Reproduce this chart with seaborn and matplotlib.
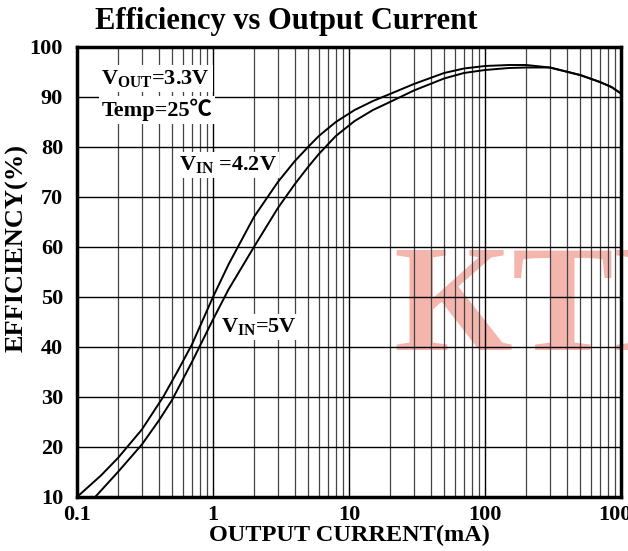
import numpy as np
import pandas as pd
import matplotlib
matplotlib.use('Agg')
import matplotlib.pyplot as plt
import seaborn as sns

# ── DATA ──────────────────────────────────────────────────────────────────────
current_42 = [0.1, 0.15, 0.2, 0.3, 0.43, 0.55, 0.7, 1.0, 1.3, 2.0, 3.0, 4.0, 5.0,
              6.0, 8.0, 11, 15, 20, 30, 50, 70, 100, 150, 200, 300, 500, 700, 850, 1000]
eff_42     = [10, 14.3, 17.8, 23.5, 30, 35.2, 40.5, 50, 56.5, 66, 73, 77.2, 80,
              82.2, 85, 87.4, 89.2, 90.6, 92.6, 94.8, 95.7, 96.2, 96.4, 96.4, 95.9,
              94.4, 93, 92, 90.7]

current_5  = [0.136, 0.2, 0.3, 0.4, 0.5, 0.7, 1.0, 1.3, 2.0, 3.0, 4.0, 5.0, 6.0,
              8.0, 11, 15, 20, 30, 50, 70, 100, 150, 200, 300, 500, 700, 850, 1000]
eff_5      = [10, 15, 20.5, 25.3, 29.4, 37, 45.5, 51.5, 60, 67.8, 72.6, 76, 78.6,
              82.2, 85.2, 87.4, 89, 91.3, 93.7, 94.8, 95.4, 95.8, 95.9, 95.9,
              94.4, 93, 92, 90.7]

y_ticks  = [10, 20, 30, 40, 50, 60, 70, 80, 90, 100]
x_ticks  = [0.1, 1, 10, 100, 1000]
x_labels = ['0.1', '1', '10', '100', '1000']

df = pd.concat([
    pd.DataFrame({'current': current_42, 'eff': eff_42, 'vin': '4.2V'}),
    pd.DataFrame({'current': current_5,  'eff': eff_5,  'vin': '5V'}),
])

# ── STYLE ─────────────────────────────────────────────────────────────────────
sns.set_style('white')
plt.rcParams['font.family'] = ['Liberation Serif', 'Noto Sans CJK SC', 'DejaVu Serif']
plt.rcParams['font.weight'] = 'bold'
plt.rcParams['text.color'] = 'black'
plt.rcParams['axes.labelcolor'] = 'black'
plt.rcParams['xtick.color'] = 'black'
plt.rcParams['ytick.color'] = 'black'
plt.rcParams['mathtext.fontset'] = 'custom'
plt.rcParams['mathtext.rm'] = 'Liberation Serif:bold'
plt.rcParams['mathtext.it'] = 'Liberation Serif:bold'
plt.rcParams['mathtext.bf'] = 'Liberation Serif:bold'

fig = plt.figure(figsize=(6.28, 5.51), dpi=100)
ax = fig.add_axes([77 / 628, 54 / 551, 544 / 628, 450 / 551])

sns.lineplot(data=df, x='current', y='eff', units='vin', estimator=None,
             color='black', lw=1.4, ax=ax, sort=False, zorder=3)

ax.set_xscale('log')
ax.set_xlim(0.1, 1000)
ax.set_ylim(10, 100)
ax.set_xticks(x_ticks)
ax.set_xticklabels(x_labels)
ax.set_yticks(y_ticks)

# grid
ax.set_axisbelow(True)
ax.grid(True, which='major', axis='both', color='black', lw=1.0, zorder=1)
ax.grid(True, which='minor', axis='x', color='#444444', lw=0.9, zorder=1)
ax.tick_params(axis='both', which='both', length=0, labelsize=16)
ax.tick_params(axis='y', pad=10)
ax.tick_params(axis='x', pad=6)
for lbl in ax.get_xticklabels() + ax.get_yticklabels():
    lbl.set_fontweight('bold')

for s in ax.spines.values():
    s.set_visible(True)
    s.set_color('black')
    s.set_linewidth(2.5)

ax.set_xlabel('OUTPUT CURRENT(mA)', fontsize=17.5, fontweight='bold', labelpad=0)
ax.set_ylabel('')
fig.text(17 / 628, 1 - 248 / 551, 'EFFICIENCY(%)', rotation=90, ha='center',
         va='center', fontsize=19, fontweight='bold')

fig.text(95 / 628, 1 - 22 / 551, 'Efficiency vs Output Current', ha='left',
         va='center', fontsize=22, fontweight='bold')

# annotations
box = dict(facecolor='white', edgecolor='none', pad=2)
ax.text(0.045, 0.93, r'$\mathrm{V_{OUT}}$=3.3V', transform=ax.transAxes,
        fontsize=16, fontweight='bold', va='center', ha='left', bbox=box, zorder=4)
ax.text(0.045, 0.86, 'Temp=25℃', transform=ax.transAxes,
        fontsize=16, fontweight='bold', va='center', ha='left', bbox=box, zorder=4)
ax.text(0.187, 0.738, r'$\mathrm{V_{IN}}$ =4.2V', transform=ax.transAxes,
        fontsize=16, fontweight='bold', va='center', ha='left', bbox=box, zorder=4)
ax.text(0.265, 0.378, r'$\mathrm{V_{IN}}$=5V', transform=ax.transAxes,
        fontsize=16, fontweight='bold', va='center', ha='left', bbox=box, zorder=4)

# watermark
ax.text((393 - 77) / 544, (497 - 313) / 450, 'KTD', transform=ax.transAxes,
        fontsize=110, fontweight='bold', color='#ee8577', alpha=0.6,
        va='center', ha='left', clip_on=False, zorder=0.2)

fig.savefig('out.png', dpi=100)
